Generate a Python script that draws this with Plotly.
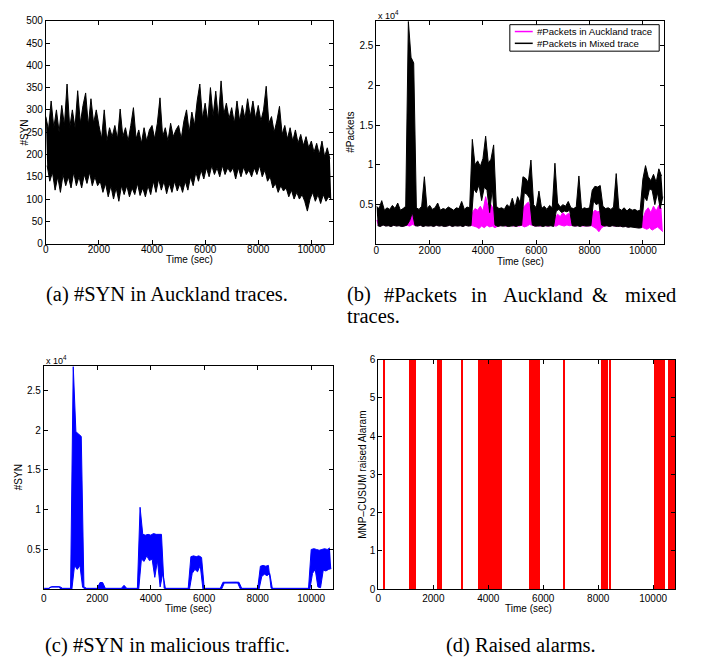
import plotly.graph_objects as go

# ---------------- data ----------------
# Each noisy trace is given by its upper envelope (peaks, sampled at t = 0, 100, 200, ... s)
# and its lower envelope (troughs, sampled at t = 50, 150, 250, ... s).
ENV_STEP = 100
ENV_OFFSET_LOW = 50

# (a) #SYN in Auckland traces
syn_auckland_peaks = [
    285, 255, 320, 260, 300, 250, 310, 265, 358, 260,
    300, 260, 343, 270, 310, 338, 265, 325, 270, 300,
    265, 235, 300, 230, 260, 240, 265, 235, 302, 240,
    260, 230, 265, 305, 235, 255, 225, 260, 230, 255,
    265, 235, 270, 327, 240, 260, 230, 270, 240, 255,
    265, 235, 275, 300, 250, 295, 265, 320, 358, 280,
    315, 275, 350, 285, 342, 280, 365, 290, 315, 280,
    305, 270, 320, 275, 310, 280, 325, 285, 320, 280,
    310, 275, 300, 353, 270, 285, 250, 275, 308, 245,
    265, 235, 260, 230, 255, 225, 245, 220, 240, 215,
    230, 205, 225, 200, 230, 195, 215, 190,
]
syn_auckland_troughs = [
    175, 140, 160, 120, 150, 115, 155, 130, 150, 125,
    160, 130, 150, 125, 155, 135, 160, 130, 150, 130,
    140, 115, 135, 105, 130, 100, 125, 95, 130, 110,
    130, 105, 125, 110, 135, 108, 125, 105, 130, 110,
    140, 115, 145, 120, 140, 112, 135, 115, 140, 118,
    135, 115, 140, 120, 150, 130, 160, 140, 165, 145,
    170, 150, 175, 155, 170, 150, 175, 155, 170, 160,
    170, 145, 170, 150, 172, 155, 165, 150, 170, 155,
    175, 150, 165, 140, 150, 125, 135, 115, 130, 118,
    125, 105, 120, 100, 115, 100, 110, 95, 73, 100,
    115, 95, 110, 90, 110, 95, 105, 100,
]

# (b) #Packets in Auckland trace
packets_auckland_peaks = [
    3000, 3100, 2900, 3200, 3000, 3100, 2950, 3050, 3100, 3000,
    3100, 3300, 3200, 5000, 3100, 3000, 3100, 3200, 3000, 3100,
    3000, 3100, 2900, 3000, 3100, 3000, 2950, 3050, 3000, 3100,
    3000, 3050, 2950, 3100, 3000, 3100, 4000, 4500, 4300, 4800,
    4200, 6000, 4600, 5000, 4400, 3200, 3100, 3000, 3100, 3000,
    3050, 3100, 3000, 3150, 3100, 4500, 5000, 5300, 4600, 3200,
    3100, 3050, 3000, 3100, 3000, 3100, 3050, 3200, 3800, 3500,
    4000, 3600, 3900, 3700, 3100, 3050, 3000, 3100, 3000, 3050,
    3100, 3900, 4300, 4100, 4200, 3100, 3000, 3050, 3000, 3100,
    3050, 3000, 3100, 3000, 3050, 3000, 2950, 3000, 3050, 3000,
    3200, 4200, 4600, 4000, 4800, 4200, 4900, 4500,
]
packets_auckland_troughs = [
    2400, 2300, 2500, 2350, 2400, 2300, 2450, 2350, 2400, 2300,
    2350, 2400, 2300, 2500, 2400, 2350, 2450, 2300, 2400, 2350,
    2400, 2300, 2450, 2350, 2400, 2300, 2350, 2450, 2300, 2400,
    2350, 2400, 2300, 2450, 2350, 2400, 2300, 2200, 2000, 2300,
    2100, 2400, 2200, 2300, 2100, 2300, 2350, 2400, 2300, 2350,
    2400, 2300, 2350, 2300, 2400, 2200, 2300, 2500, 2400, 2300,
    2350, 2300, 2400, 2350, 2300, 2400, 2350, 2300, 2500, 2400,
    2300, 2450, 2350, 2400, 2300, 2350, 2400, 2300, 2350, 2300,
    2400, 2200, 2000, 1600, 2100, 2300, 2350, 2300, 2400, 2300,
    2350, 2300, 2250, 2300, 2200, 2300, 2250, 2200, 2150, 2200,
    2000, 1900, 2100, 1800, 2000, 2200, 1900, 1600,
]

# (b) #Packets in Mixed trace
packets_mixed_peaks = [
    4800, 4500, 5500, 4300, 4600, 4400, 4900, 4500, 5200, 4300,
    4500, 4800, 28000, 23500, 22800, 4600, 4400, 4800, 8500, 4500,
    4900, 4400, 4600, 5200, 4300, 4500, 4400, 4700, 4500, 4300,
    4600, 4500, 5400, 4400, 4700, 4600, 13200, 10000, 10500, 9800,
    10800, 13600, 10200, 10700, 12500, 4800, 4500, 4600, 4400, 5000,
    4700, 5800, 4600, 6000, 5200, 8500, 8300, 7800, 10600, 5000,
    4600, 6700, 4500, 4800, 4400, 4900, 4600, 10200, 5200, 4700,
    5000, 4800, 5400, 4600, 4500, 4700, 8600, 4400, 4600, 4500,
    4600, 6800, 7300, 7200, 7400, 4800, 4500, 4600, 4400, 4700,
    8900, 4500, 4300, 4600, 4200, 4500, 4300, 4400, 4200, 4300,
    8200, 9900, 8500, 8000, 8800, 7800, 9500, 8600,
]
packets_mixed_troughs = [
    2350, 2250, 2450, 2300, 2350, 2250, 2400, 2300, 2350, 2250,
    2300, 2450, 3000, 4000, 2350, 2300, 2400, 2250, 2350, 2300,
    2350, 2250, 2400, 2300, 2350, 2250, 2300, 2400, 2250, 2350,
    2300, 2350, 2250, 2400, 2300, 2350, 7000, 6500, 7500, 5500,
    7200, 6800, 4000, 7000, 2450, 2250, 2350, 2300, 2350, 2250,
    2300, 2350, 2250, 2400, 2400, 6500, 6300, 5800, 2450, 2300,
    2300, 2350, 2250, 2350, 2300, 2350, 2250, 4200, 4400, 4000,
    4200, 4100, 4300, 2350, 2300, 2350, 2250, 2400, 2300, 2350,
    2350, 5500, 5000, 5200, 2450, 2300, 2350, 2250, 2350, 2300,
    2250, 2300, 2200, 2250, 2150, 2200, 2150, 2100, 2050, 2100,
    6000, 5500, 7000, 6800, 5000, 6500, 4500, 6000,
]

# (c) #SYN in malicious traffic
syn_malicious_peaks = [
    120, 120, 120, 330, 330, 330, 330, 120, 120, 120,
    120, 28000, 19800, 19500, 19200, 300, 120, 120, 120, 120,
    120, 850, 850, 120, 120, 120, 120, 120, 120, 120,
    500, 120, 120, 120, 120, 120, 10300, 6900, 6800, 6900,
    6800, 7000, 6900, 6900, 6900, 120, 120, 120, 120, 120,
    120, 120, 120, 120, 120, 4100, 4200, 4100, 4200, 4000,
    120, 120, 120, 120, 120, 120, 120, 880, 900, 900,
    900, 880, 900, 880, 120, 120, 120, 120, 120, 120,
    120, 2900, 3000, 2900, 3000, 120, 120, 120, 120, 120,
    120, 120, 120, 120, 120, 120, 120, 120, 120, 120,
    5000, 5100, 5000, 4900, 5000, 5100, 5000, 5200,
]
syn_malicious_troughs = [
    30, 30, 280, 280, 280, 280, 30, 30, 30, 30,
    30, 3000, 2500, 3000, 250, 30, 30, 30, 30, 30,
    30, 30, 30, 30, 30, 30, 30, 30, 30, 30,
    30, 30, 30, 30, 30, 30, 3800, 3500, 4200, 3600,
    3800, 1500, 3600, 300, 2000, 30, 30, 30, 30, 30,
    30, 30, 30, 30, 30, 2000, 2500, 2200, 3000, 30,
    30, 30, 30, 30, 30, 30, 30, 780, 780, 780,
    780, 780, 780, 30, 30, 30, 30, 30, 30, 30,
    30, 1600, 1900, 1700, 2000, 30, 30, 30, 30, 30,
    30, 30, 30, 30, 30, 30, 30, 30, 30, 30,
    2000, 2500, 300, 200, 2400, 2300, 2500, 2600,
]

# (d) MNP-CUSUM raised alarms (start / end time in s)
alarm_start = [182, 1127, 2145, 3042, 3636, 3939, 5490, 5805, 6727, 8120, 8400, 10060, 10545]
alarm_end   = [267, 1394, 2327, 3091, 3915, 4509, 5781, 5878, 6824, 8375, 8496, 10447, 10800]
alarm_level = [6] * len(alarm_start)

time_ticks = [0, 2000, 4000, 6000, 8000, 10000]
syn_ticks = [0, 50, 100, 150, 200, 250, 300, 350, 400, 450, 500]
e4_tickvals = [5000, 10000, 15000, 20000, 25000]
e4_ticktext = ["0.5", "1", "1.5", "2", "2.5"]
alarm_ticks = [0, 1, 2, 3, 4, 5, 6]

legend_names = ["#Packets in Auckland trace", "#Packets in Mixed trace"]


def t_peaks(series):
    return [ENV_STEP * k for k in range(len(series))]


def t_troughs(series):
    return [ENV_STEP * k + ENV_OFFSET_LOW for k in range(len(series))]


# ---------------- layout geometry (pixels) ----------------
W, H = 704, 665
PANELS = {  # left, right, top, bottom in px
    "a": (43, 331, 15, 242),
    "b": (375, 664, 15, 242),
    "c": (41, 331, 367, 594),
    "d": (377, 675, 360, 594),
}
XLABEL_STANDOFF = {"a": -4, "b": -3, "c": 0, "d": 0}


def dom(p):
    l, r, t, b = PANELS[p]
    return [l / W, r / W], [1 - b / H, 1 - t / H]


def px(x):
    return x / W


def py(y):
    return 1 - y / H


SANS = "Liberation Sans, Arial, sans-serif"
SERIF = "Liberation Serif, Times New Roman, serif"
TICKFONT = dict(family=SANS, size=10, color="black")
MAGENTA, BLUE, RED = "#ff00ff", "#0000ff", "#ff0000"

fig = go.Figure()


def add_band(peaks, troughs, color, xa, ya, name):
    # lower envelope line, then upper envelope filled down to it
    fig.add_trace(go.Scatter(x=t_troughs(troughs), y=troughs, mode="lines",
                             line=dict(color=color, width=1), name=name,
                             showlegend=False, xaxis=xa, yaxis=ya, hoverinfo="skip"))
    fig.add_trace(go.Scatter(x=t_peaks(peaks), y=peaks, mode="lines",
                             line=dict(color=color, width=1), fill="tonexty",
                             fillcolor=color, name=name, showlegend=False,
                             xaxis=xa, yaxis=ya))


add_band(syn_auckland_peaks, syn_auckland_troughs, "black", "x", "y", "#SYN")
add_band(packets_auckland_peaks, packets_auckland_troughs, MAGENTA, "x2", "y2", legend_names[0])
add_band(packets_mixed_peaks, packets_mixed_troughs, "black", "x2", "y2", legend_names[1])
add_band(syn_malicious_peaks, syn_malicious_troughs, BLUE, "x3", "y3", "#SYN")

fig.add_trace(go.Bar(x=alarm_start, y=alarm_level,
                     width=[e - s for s, e in zip(alarm_start, alarm_end)],
                     offset=0, marker=dict(color=RED, line=dict(width=0)),
                     showlegend=False, xaxis="x4", yaxis="y4"))

common = dict(showgrid=False, zeroline=False, showline=True, linecolor="black",
              linewidth=1, mirror="ticks", ticks="inside", ticklen=4,
              tickwidth=1, tickcolor="black", tickfont=TICKFONT)

layout_axes = {}
for i, p in enumerate(["a", "b", "c", "d"], start=1):
    xd, yd = dom(p)
    sfx = "" if i == 1 else str(i)
    layout_axes["xaxis" + sfx] = dict(domain=xd, anchor="y" + sfx, range=[0, 10800],
                                      tickvals=time_ticks, tickformat="d",
                                      ticklabelstandoff=XLABEL_STANDOFF[p], **common)
    layout_axes["yaxis" + sfx] = dict(domain=yd, anchor="x" + sfx, **common)

layout_axes["yaxis"].update(range=[0, 500], tickvals=syn_ticks)
layout_axes["yaxis2"].update(range=[100, 28100], tickvals=e4_tickvals, ticktext=e4_ticktext)
layout_axes["yaxis3"].update(range=[0, 28000], tickvals=e4_tickvals, ticktext=e4_ticktext)
layout_axes["yaxis4"].update(range=[0, 6], tickvals=alarm_ticks)


def ann(text, x, y, size=10, font=SANS, angle=0, xanchor="center", yanchor="middle"):
    return dict(text=text, x=px(x), y=py(y), xref="paper", yref="paper",
                showarrow=False, textangle=angle, xanchor=xanchor, yanchor=yanchor,
                font=dict(family=font, size=size, color="black"))


annotations = [
    # axis titles
    ann("#SYN", 21.5, 128.5, angle=-90),
    ann("Time (sec)", 187, 258.5),
    ann("#Packets", 349, 128.5, angle=-90),
    ann("Time (sec)", 519.5, 260),
    ann("x 10<sup>4</sup>", 375, 9, size=9, xanchor="left"),
    ann("#SYN", 15, 480, angle=-90),
    ann("Time (sec)", 186, 614),
    ann("x 10<sup>4</sup>", 41, 360, size=9, xanchor="left"),
    ann("MNP–CUSUM raised Alaram", 361, 477, angle=-90),
    ann("Time (sec)", 528, 614),
    # legend texts
    ann(legend_names[0], 534, 26, size=9.6, xanchor="left"),
    ann(legend_names[1], 534, 38, size=9.6, xanchor="left"),
    # captions
    ann("(a) #SYN in Auckland traces.", 40.7, 294, size=20.5, font=SERIF, xanchor="left"),
    ann("(b)", 343, 294, size=20.5, font=SERIF, xanchor="left"),
    ann("#Packets", 380.7, 294, size=20.5, font=SERIF, xanchor="left"),
    ann("in", 468, 294, size=20.5, font=SERIF, xanchor="left"),
    ann("Auckland", 500, 294, size=20.5, font=SERIF, xanchor="left"),
    ann("&amp;", 590, 294, size=20.5, font=SERIF, xanchor="left"),
    ann("mixed", 623, 294, size=20.5, font=SERIF, xanchor="left"),
    ann("traces.", 343, 316, size=20.5, font=SERIF, xanchor="left"),
    ann("(c) #SYN in malicious traffic.", 40, 651, size=20.5, font=SERIF, xanchor="left"),
    ann("(d) Raised alarms.", 520, 651, size=20.5, font=SERIF),
]

shapes = [
    # legend box of panel (b)
    dict(type="rect", xref="paper", yref="paper", x0=px(509), x1=px(659),
         y0=py(46), y1=py(19), line=dict(color="black", width=1), fillcolor="white",
         layer="above"),
    dict(type="line", xref="paper", yref="paper", x0=px(514), x1=px(532),
         y0=py(26), y1=py(26), line=dict(color=MAGENTA, width=1.5), layer="above"),
    dict(type="line", xref="paper", yref="paper", x0=px(514), x1=px(532),
         y0=py(38), y1=py(38), line=dict(color="black", width=1.5), layer="above"),
]

fig.update_layout(
    width=W, height=H,
    margin=dict(l=0, r=0, t=0, b=0),
    paper_bgcolor="white", plot_bgcolor="white",
    showlegend=False,
    annotations=annotations,
    shapes=shapes,
    bargap=0,
    **layout_axes,
)

fig.write_html("out.html", config={"displayModeBar": False},
               post_script="document.body.style.margin='0px';")
